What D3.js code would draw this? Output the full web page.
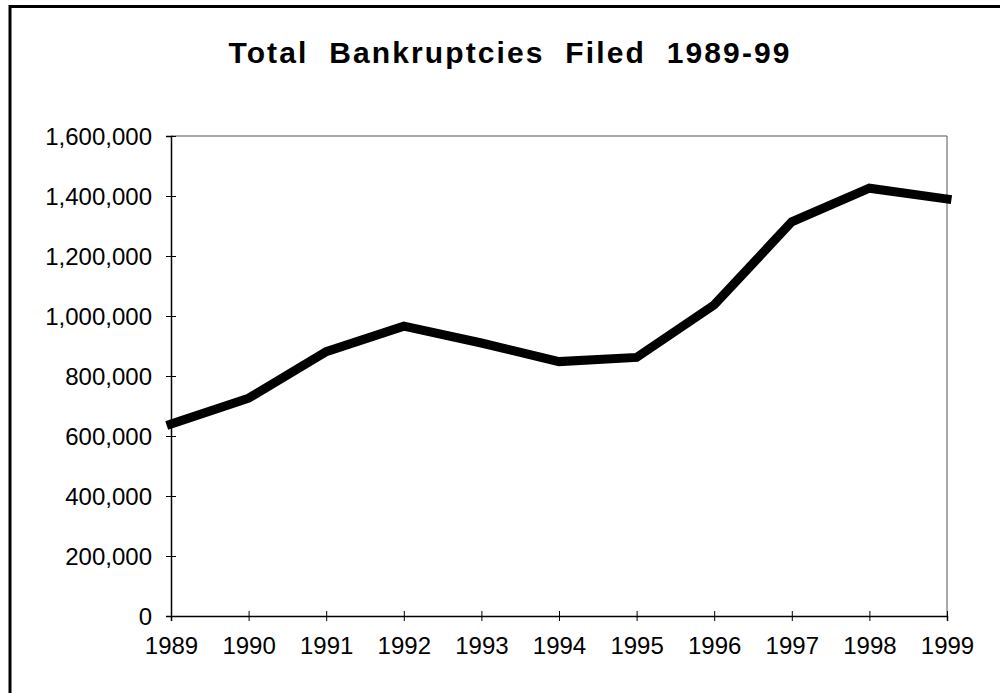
<!DOCTYPE html>
<html>
<head>
<meta charset="utf-8">
<script src="https://cdn.jsdelivr.net/npm/d3@7"></script>
<style>
  html, body { margin: 0; padding: 0; background: #fff; overflow: hidden; }
  svg { display: block; }
  text { font-family: "Liberation Sans", Arial, sans-serif; fill: #000; }
</style>
</head>
<body>
<svg id="chart" width="1000" height="693"></svg>
<script>
const title = "Total  Bankruptcies  Filed  1989-99";
const years = [1989, 1990, 1991, 1992, 1993, 1994, 1995, 1996, 1997, 1998, 1999];
const filings = [640000, 726000, 881000, 966000, 910000, 848000, 862000, 1037000, 1314000, 1426000, 1390000];
const yTicks = [0, 200000, 400000, 600000, 800000, 1000000, 1200000, 1400000, 1600000];

const svg = d3.select("#chart");
const W = 1000, H = 693;
const m = { left: 171, right: 947, top: 136, bottom: 616 };

svg.append("rect").attr("width", W).attr("height", H).attr("fill", "#fff");

// outer frame (partially cut off at right/bottom)
svg.append("rect")
  .attr("x", 10).attr("y", 6.5)
  .attr("width", 1100).attr("height", 800)
  .attr("fill", "none").attr("stroke", "#000").attr("stroke-width", 3);

const x = d3.scaleLinear().domain([years[0], years[years.length - 1]]).range([m.left, m.right]);
const y = d3.scaleLinear().domain([0, 1600000]).range([m.bottom, m.top]);

// plot area border (top and right)
svg.append("path")
  .attr("d", `M${m.left},${m.top}H${m.right}V${m.bottom}`)
  .attr("fill", "none").attr("stroke", "#555").attr("stroke-width", 1);

const fmt = d3.format(",");

// Y axis
const yAxis = svg.append("g")
  .attr("transform", `translate(${m.left},0)`)
  .call(d3.axisLeft(y).tickValues(yTicks).tickFormat(fmt).tickSize(5));
yAxis.select(".domain").attr("stroke", "#000").attr("stroke-width", 1.5);
yAxis.selectAll(".tick line").attr("x2", 5).attr("x1", -5).attr("stroke", "#000").attr("stroke-width", 1);
yAxis.selectAll(".tick text")
  .attr("x", -19)
  .attr("dy", "0.36em")
  .style("font-size", "24px")
  .style("font-family", "'Liberation Sans', Arial, sans-serif");

// X axis
const xAxis = svg.append("g")
  .attr("transform", `translate(0,${m.bottom})`)
  .call(d3.axisBottom(x).tickValues(years).tickFormat(d3.format("d")).tickSize(5));
xAxis.select(".domain").attr("stroke", "#000").attr("stroke-width", 1.5);
xAxis.selectAll(".tick line").attr("y1", -5).attr("y2", 5).attr("stroke", "#000").attr("stroke-width", 1);
xAxis.selectAll(".tick text")
  .attr("y", 38)
  .attr("dy", 0)
  .style("font-size", "24px")
  .style("font-family", "'Liberation Sans', Arial, sans-serif");

// line
const line = d3.line().x((d, i) => x(years[i])).y(d => y(d));
svg.append("path")
  .datum(filings)
  .attr("d", line)
  .attr("fill", "none")
  .attr("stroke", "#000")
  .attr("stroke-width", 9)
  .attr("stroke-linejoin", "miter")
  .attr("stroke-linecap", "square");

// title
svg.append("text")
  .attr("x", 510).attr("y", 63.3)
  .attr("text-anchor", "middle")
  .style("font-size", "30px")
  .style("font-weight", "bold")
  .style("letter-spacing", "2.1px")
  .style("white-space", "pre")
  .attr("xml:space", "preserve")
  .text(title);
</script>
</body>
</html>
